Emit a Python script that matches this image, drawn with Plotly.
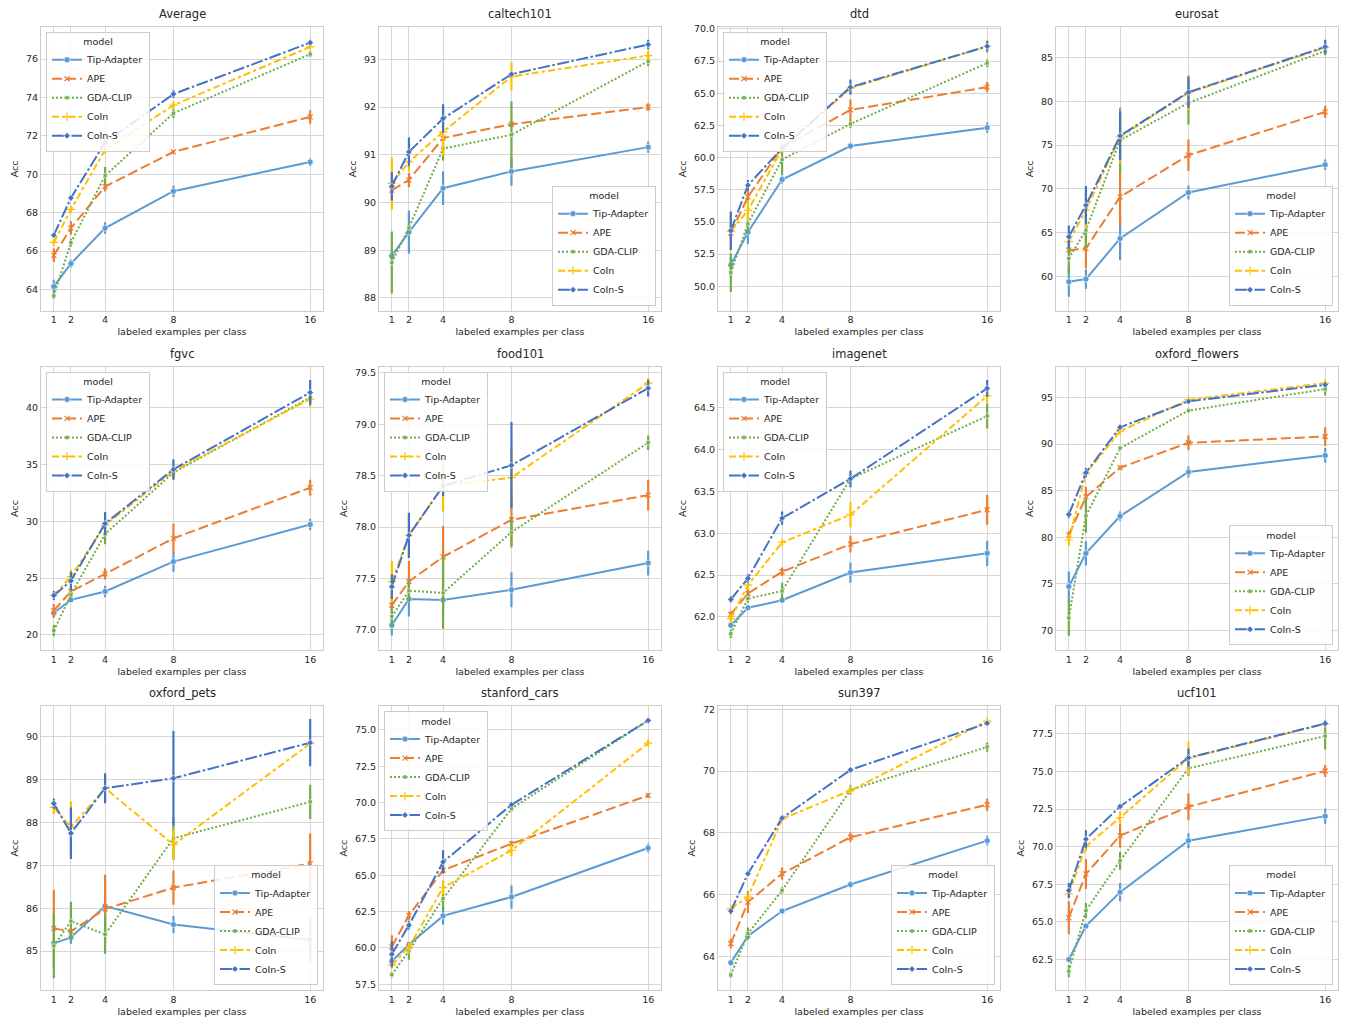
import plotly.graph_objects as go

# ---------------- data ----------------
shots = [1, 2, 4, 8, 16]
models = ["Tip-Adapter", "APE", "GDA-CLIP", "CoIn", "CoIn-S"]
datasets = ["Average", "caltech101", "dtd", "eurosat",
            "fgvc", "food101", "imagenet", "oxford_flowers",
            "oxford_pets", "stanford_cars", "sun397", "ucf101"]

# rows: Tip-Adapter, APE, GDA-CLIP, CoIn, CoIn-S ; columns: 1,2,4,8,16 shots
average_acc = [[64.16, 65.35, 67.20, 69.12, 70.64],
               [65.78, 67.20, 69.36, 71.17, 72.99],
               [63.67, 66.44, 69.93, 73.18, 76.26],
               [66.45, 68.17, 71.28, 73.60, 76.64],
               [66.83, 68.77, 71.66, 74.18, 76.86]]
average_err = [[0.35, 0.20, 0.30, 0.30, 0.20],
               [0.35, 0.35, 0.25, 0.10, 0.35],
               [0.15, 0.20, 0.45, 0.25, 0.15],
               [0.15, 0.15, 0.15, 0.15, 0.10],
               [0.10, 0.15, 0.20, 0.20, 0.15]]

caltech101_acc = [[88.88, 89.38, 90.30, 90.65, 91.16],
                  [90.26, 90.47, 91.35, 91.64, 92.00],
                  [88.74, 89.47, 91.13, 91.42, 92.96],
                  [90.40, 90.85, 91.48, 92.64, 93.08],
                  [90.34, 91.06, 91.76, 92.69, 93.31]]
caltech101_err = [[0.10, 0.45, 0.35, 0.30, 0.12],
                  [0.05, 0.15, 0.05, 0.05, 0.08],
                  [0.65, 0.10, 0.25, 0.70, 0.10],
                  [0.55, 0.20, 0.50, 0.30, 0.10],
                  [0.30, 0.30, 0.30, 0.05, 0.10]]

dtd_acc = [[51.66, 54.21, 58.30, 60.90, 62.33],
           [54.14, 56.95, 60.80, 63.71, 65.48],
           [51.07, 54.86, 59.86, 62.62, 67.35],
           [54.27, 55.90, 60.67, 65.40, 68.65],
           [54.32, 57.86, 60.72, 65.48, 68.65]]
dtd_err = [[0.60, 0.90, 0.30, 0.25, 0.40],
           [0.60, 0.60, 0.30, 0.80, 0.40],
           [1.50, 0.70, 1.20, 0.30, 0.30],
           [1.50, 0.80, 0.30, 0.30, 0.50],
           [1.50, 0.40, 0.30, 0.60, 0.40]]

eurosat_acc = [[59.39, 59.70, 64.34, 69.59, 72.75],
               [63.00, 63.20, 69.09, 73.85, 78.80],
               [62.05, 65.29, 75.56, 79.82, 85.76],
               [63.96, 67.57, 75.94, 80.97, 86.14],
               [64.53, 68.14, 76.06, 81.04, 86.22]]
eurosat_err = [[1.70, 1.10, 2.50, 0.80, 0.60],
               [0.30, 2.30, 3.20, 1.80, 0.70],
               [1.80, 2.00, 3.70, 2.50, 0.50],
               [0.30, 2.00, 3.00, 2.00, 0.60],
               [1.30, 2.20, 2.80, 1.80, 0.80]]

fgvc_acc = [[21.93, 23.09, 23.82, 26.45, 29.72],
            [22.13, 23.82, 25.37, 28.50, 32.96],
            [20.38, 23.53, 28.88, 34.28, 40.90],
            [23.47, 25.14, 29.66, 34.42, 40.76],
            [23.47, 24.76, 29.81, 34.57, 41.34]]
fgvc_err = [[0.40, 0.20, 0.50, 0.90, 0.50],
            [0.60, 0.40, 0.50, 1.30, 0.70],
            [0.50, 0.30, 0.90, 0.60, 0.50],
            [0.30, 0.60, 0.80, 0.70, 0.70],
            [0.40, 0.80, 1.00, 0.90, 1.10]]

food101_acc = [[77.045, 77.30, 77.29, 77.39, 77.65],
               [77.24, 77.47, 77.71, 78.07, 78.31],
               [77.13, 77.38, 77.36, 77.95, 78.82],
               [77.47, 77.92, 78.40, 78.48, 79.40],
               [77.42, 77.92, 78.40, 78.60, 79.35]]
food101_err = [[0.10, 0.17, 0.10, 0.17, 0.12],
               [0.10, 0.20, 0.30, 0.25, 0.15],
               [0.10, 0.10, 0.35, 0.15, 0.07],
               [0.20, 0.20, 0.25, 0.30, 0.05],
               [0.12, 0.22, 0.10, 0.42, 0.08]]

imagenet_acc = [[61.90, 62.11, 62.20, 62.53, 62.76],
                [62.03, 62.28, 62.54, 62.87, 63.28],
                [61.80, 62.22, 62.31, 63.65, 64.40],
                [61.98, 62.38, 62.89, 63.22, 64.64],
                [62.21, 62.46, 63.18, 63.65, 64.73]]
imagenet_err = [[0.03, 0.03, 0.03, 0.12, 0.15],
                [0.04, 0.05, 0.05, 0.10, 0.18],
                [0.05, 0.05, 0.10, 0.05, 0.15],
                [0.05, 0.05, 0.03, 0.15, 0.08],
                [0.04, 0.05, 0.08, 0.10, 0.10]]

oxford_flowers_acc = [[74.73, 78.29, 82.27, 87.00, 88.78],
                      [80.24, 84.33, 87.46, 90.13, 90.80],
                      [71.35, 82.30, 89.56, 93.58, 95.89],
                      [79.71, 86.82, 91.37, 94.75, 96.53],
                      [82.45, 86.93, 91.80, 94.57, 96.35]]
oxford_flowers_err = [[1.60, 1.30, 0.50, 0.60, 0.80],
                      [0.40, 1.10, 0.20, 0.80, 1.00],
                      [1.90, 1.80, 0.10, 0.20, 0.70],
                      [0.60, 0.40, 0.30, 0.20, 0.30],
                      [0.40, 0.50, 0.30, 0.20, 0.30]]

oxford_pets_acc = [[85.18, 85.32, 86.05, 85.62, 85.26],
                   [85.53, 85.46, 85.98, 86.48, 87.04],
                   [85.12, 85.70, 85.39, 87.63, 88.48],
                   [88.35, 87.89, 88.80, 87.48, 89.84],
                   [88.44, 87.75, 88.80, 89.03, 89.86]]
oxford_pets_err = [[0.02, 0.15, 0.60, 0.20, 0.50],
                   [0.90, 0.05, 0.80, 0.40, 0.70],
                   [0.75, 0.45, 0.45, 0.50, 0.40],
                   [0.15, 0.60, 0.30, 0.35, 0.05],
                   [0.12, 0.60, 0.35, 1.10, 0.55]]

stanford_cars_acc = [[59.08, 60.23, 62.20, 63.50, 66.87],
                     [60.07, 62.24, 65.34, 67.17, 70.49],
                     [58.16, 59.79, 63.39, 69.58, 75.65],
                     [58.81, 60.05, 64.15, 66.71, 74.09],
                     [59.56, 61.56, 65.91, 69.85, 75.65]]
stanford_cars_err = [[0.30, 0.15, 0.60, 0.80, 0.30],
                     [0.80, 0.30, 0.20, 0.20, 0.15],
                     [0.20, 0.60, 0.80, 0.20, 0.10],
                     [0.20, 0.30, 0.50, 0.40, 0.20],
                     [0.90, 0.30, 0.80, 0.10, 0.05]]

sun397_acc = [[63.80, 64.66, 65.47, 66.33, 67.75],
              [64.42, 65.76, 66.68, 67.86, 68.91],
              [63.40, 64.74, 66.14, 69.39, 70.78],
              [65.55, 65.92, 68.45, 69.37, 71.62],
              [65.47, 66.68, 68.48, 70.04, 71.55]]
sun397_err = [[0.05, 0.05, 0.05, 0.10, 0.15],
              [0.15, 0.35, 0.20, 0.15, 0.20],
              [0.10, 0.20, 0.10, 0.15, 0.15],
              [0.05, 0.05, 0.05, 0.05, 0.05],
              [0.10, 0.05, 0.08, 0.05, 0.05]]

ucf101_acc = [[62.50, 64.73, 66.98, 70.40, 72.03],
              [65.28, 68.19, 70.73, 72.65, 75.03],
              [61.73, 65.76, 69.07, 75.20, 77.35],
              [66.87, 70.02, 71.94, 75.87, 78.16],
              [67.09, 70.50, 72.67, 75.91, 78.18]]
ucf101_err = [[0.10, 0.10, 0.60, 0.50, 0.50],
              [1.10, 1.00, 0.80, 0.90, 0.40],
              [0.40, 0.50, 0.60, 0.50, 0.90],
              [0.30, 0.30, 0.40, 1.10, 0.10],
              [0.50, 0.60, 0.10, 0.60, 0.20]]

panel_data = {
    "Average": (average_acc, average_err),
    "caltech101": (caltech101_acc, caltech101_err),
    "dtd": (dtd_acc, dtd_err),
    "eurosat": (eurosat_acc, eurosat_err),
    "fgvc": (fgvc_acc, fgvc_err),
    "food101": (food101_acc, food101_err),
    "imagenet": (imagenet_acc, imagenet_err),
    "oxford_flowers": (oxford_flowers_acc, oxford_flowers_err),
    "oxford_pets": (oxford_pets_acc, oxford_pets_err),
    "stanford_cars": (stanford_cars_acc, stanford_cars_err),
    "sun397": (sun397_acc, sun397_err),
    "ucf101": (ucf101_acc, ucf101_err),
}

# ---------------- style ----------------
# y-range, tick step, tick format, legend corner
panel_style = {
    "Average": ([62.89, 77.68], 2, "d", "ul"),
    "caltech101": ([87.73, 93.68], 1, "d", "lr"),
    "dtd": ([48.1, 70.16], 2.5, ".1f", "ul"),
    "eurosat": ([56.08, 88.5], 5, "d", "lr"),
    "fgvc": ([18.63, 43.62], 5, "d", "ul"),
    "food101": ([76.8, 79.56], 0.5, ".1f", "ul"),
    "imagenet": ([61.6, 64.99], 0.5, ".1f", "ul"),
    "oxford_flowers": ([67.87, 98.3], 5, "d", "lr"),
    "oxford_pets": ([84.09, 90.71], 1, "d", "lr"),
    "stanford_cars": ([57.09, 76.63], 2.5, ".1f", "ul"),
    "sun397": ([62.91, 72.1], 2, "d", "lr"),
    "ucf101": ([60.47, 79.33], 2.5, ".1f", "lr"),
}

colors = ["#5B9BD5", "#ED7D31", "#70AD47", "#FFC000", "#4472C4"]
dashes = ["solid", "10px,4px", "2px,2px", "7px,3px,3.5px,3px", "12px,2.5px,2.5px,2.5px"]
symbols = ["circle", "x-thin", "square", "cross-thin", "diamond"]
msizes = [6, 5, 4, 6, 5]

FONT = "DejaVu Sans"
TXT = "#262626"
GRID = "#D6D6D6"
W, H = 1347, 1024
col_px = [(41, 323), (379, 661), (718, 1000), (1056, 1338)]
row_px = [(23, 308), (364, 649), (705, 990)]

fig = go.Figure()
layout = {}
annotations = []

for i, name in enumerate(datasets):
    r, c = divmod(i, 4)
    sfx = "" if i == 0 else str(i + 1)
    xa, ya = "x" + sfx, "y" + sfx
    leg = "legend" + sfx
    acc, err = panel_data[name]
    yr, dt, tf, corner = panel_style[name]
    for m in range(len(models)):
        col = colors[m]
        thin = symbols[m] in ("x-thin", "cross-thin")
        fig.add_trace(go.Scatter(
            x=shots, y=acc[m], name=models[m], xaxis=xa, yaxis=ya, legend=leg,
            mode="lines+markers",
            line=dict(color=col, width=2, dash=dashes[m]),
            marker=dict(symbol=symbols[m], size=msizes[m], color=col,
                        line=dict(color=col if thin else "white",
                                  width=1.2 if thin else 0.6)),
            error_y=dict(type="data", array=err[m], visible=True,
                         color=col, thickness=2.2, width=0),
        ))
    x0, x1 = col_px[c]
    y0, y1 = row_px[r]
    layout["xaxis" + sfx] = dict(
        domain=[x0 / W, x1 / W], anchor=ya, range=[0.25, 16.75],
        tickvals=shots, ticktext=[str(s) for s in shots],
        showgrid=True, gridcolor=GRID, gridwidth=1, zeroline=False,
        showline=True, linecolor="#CCCCCC", linewidth=1, mirror=True,
        ticks="", tickfont=dict(family=FONT, size=9.5, color=TXT),
        title=dict(text="labeled examples per class", standoff=4,
                   font=dict(family=FONT, size=9.5, color=TXT)),
    )
    layout["yaxis" + sfx] = dict(
        domain=[1 - y1 / H, 1 - y0 / H], anchor=xa, range=yr,
        dtick=dt, tick0=0, tickformat=tf,
        showgrid=True, gridcolor=GRID, gridwidth=1, zeroline=False,
        showline=True, linecolor="#CCCCCC", linewidth=1, mirror=True,
        ticks="", tickfont=dict(family=FONT, size=9.5, color=TXT),
        title=dict(text="Acc", standoff=5,
                   font=dict(family=FONT, size=9.5, color=TXT)),
    )
    if corner == "ul":
        lx, ly, xan, yan = (x0 + 5) / W, 1 - (y0 + 5) / H, "left", "top"
    else:
        lx, ly, xan, yan = (x1 - 5) / W, 1 - (y1 - 5) / H, "right", "bottom"
    layout[leg] = dict(
        x=lx, y=ly, xanchor=xan, yanchor=yan, xref="paper", yref="paper",
        bgcolor="rgba(255,255,255,0.85)", bordercolor="#CCCCCC", borderwidth=1,
        font=dict(family=FONT, size=9.5, color=TXT),
        title=dict(text="model", side="top center",
                   font=dict(family=FONT, size=9.5, color=TXT)),
        itemwidth=30, tracegroupgap=0, itemclick=False,
    )
    annotations.append(dict(
        text=name, x=(x0 + x1) / 2 / W, y=1 - (y0 - 4) / H,
        xref="paper", yref="paper", xanchor="center", yanchor="bottom",
        showarrow=False, font=dict(family=FONT, size=11.5, color=TXT),
    ))

fig.update_layout(
    width=W, height=H, autosize=False,
    margin=dict(l=0, r=0, t=0, b=0),
    paper_bgcolor="white", plot_bgcolor="white",
    font=dict(family=FONT, color=TXT),
    annotations=annotations,
    **layout,
)

fig.write_html(
    "out.html",
    config={"displayModeBar": False},
    post_script="document.body.style.margin='0';document.body.style.overflow='hidden';",
)
